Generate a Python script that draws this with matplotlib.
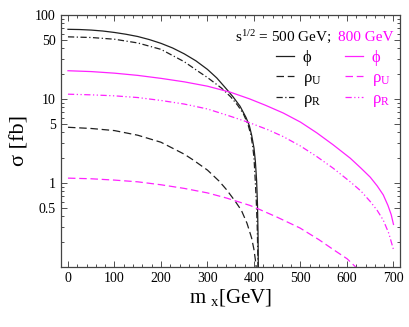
import numpy as np
import matplotlib
matplotlib.use('Agg')
import matplotlib.pyplot as plt
from matplotlib.ticker import FixedLocator, MultipleLocator, NullFormatter

plt.rcParams['font.family'] = ['Liberation Serif', 'DejaVu Serif']
plt.rcParams['mathtext.fontset'] = 'custom'
plt.rcParams['mathtext.rm'] = 'Liberation Serif'
plt.rcParams['mathtext.it'] = 'Liberation Serif:italic'

# sqrt(s) = 500 GeV
m_phi500 = [0, 25, 50, 75, 100, 125, 150, 175, 200, 225, 250, 275, 300, 320, 340, 355,
            370, 383, 390, 395, 400, 403, 405.7, 407.5, 408.7, 409.3, 409.6]
s_phi500 = [67.6, 67.2, 66.2, 64.5, 62, 59, 55.5, 51, 46, 40.5, 34.5, 28.5, 22.5, 17.8, 13.3, 10.6,
            8.2, 6.0, 4.8, 3.7, 2.6, 1.8, 1.05, 0.55, 0.25, 0.1, 0.03]
m_rhoR500 = [0, 50, 100, 150, 200, 250, 283, 300, 330, 350, 365, 377, 387, 393, 397, 400,
             402.6, 405, 407, 408.5, 409.2]
s_rhoR500 = [55, 54, 51.5, 46.5, 39, 27.8, 20.8, 18, 13.5, 10.6, 8.4, 6.7, 5.0, 3.8, 2.8, 2.0,
             1.1, 0.6, 0.3, 0.12, 0.04]
m_rhoU500 = [0, 50, 100, 150, 200, 250, 269, 300, 325, 341, 360, 373, 385, 395, 400, 404, 407]
s_rhoU500 = [4.6, 4.45, 4.2, 3.7, 3.05, 2.2, 1.88, 1.42, 1.05, 0.83, 0.6, 0.47, 0.33, 0.22, 0.16, 0.11, 0.07]

# sqrt(s) = 800 GeV
m_phi800 = [0, 50, 100, 150, 200, 250, 300, 350, 391, 425, 463, 500, 535, 570, 607, 630,
            650, 665, 678, 688, 695, 700]
s_phi800 = [21.7, 21.2, 20.3, 19.1, 17.6, 16.0, 14.2, 12.0, 10.0, 8.4, 6.8, 5.3, 3.95, 2.85, 1.97, 1.5,
            1.17, 0.92, 0.72, 0.54, 0.42, 0.32]
m_rhoR800 = [0, 50, 100, 150, 200, 250, 300, 350, 391, 430, 463, 500, 535, 570, 607, 630,
             650, 665, 678, 690, 700]
s_rhoR800 = [11.4, 11.2, 10.9, 10.4, 9.6, 8.7, 7.6, 6.2, 5.2, 4.3, 3.56, 2.75, 2.06, 1.5, 1.03, 0.8,
             0.6, 0.47, 0.36, 0.25, 0.16]
m_rhoU800 = [0, 50, 100, 150, 200, 250, 300, 341, 391, 413, 450, 499, 540, 571, 600, 620]
s_rhoU800 = [1.14, 1.12, 1.08, 1.03, 0.95, 0.86, 0.76, 0.66, 0.54, 0.48, 0.39, 0.29, 0.21, 0.16, 0.125, 0.098]

yticks = [0.5, 1, 5, 10, 50, 100]
ytick_labels = ['0.5', '1', '5', '10', '50', '100']

blk = '#202020'
mag = '#ff22ff'

fig = plt.figure(figsize=(4.09, 3.27), dpi=100)
ax = fig.add_axes([0.148, 0.184, 0.830, 0.770])

l1, = ax.plot(m_phi500, s_phi500, color=blk, lw=0.9, ls='-')
l2, = ax.plot(m_rhoU500, s_rhoU500, color=blk, lw=0.9, ls=(0, (6, 3)))
l3, = ax.plot(m_rhoR500, s_rhoR500, color=blk, lw=0.9, ls=(0, (5, 2, 1, 2)))
l4, = ax.plot(m_phi800, s_phi800, color=mag, lw=0.9, ls='-')
l5, = ax.plot(m_rhoU800, s_rhoU800, color=mag, lw=0.9, ls=(0, (6, 3)))
l6, = ax.plot(m_rhoR800, s_rhoR800, color=mag, lw=0.9, ls=(0, (5, 2, 1, 2, 1, 2)))

ax.set_yscale('log')
ax.set_xlim(-16, 714)
ax.set_ylim(0.1, 100)
ax.xaxis.set_major_locator(MultipleLocator(100))
ax.xaxis.set_minor_locator(MultipleLocator(20))
ax.yaxis.set_major_locator(FixedLocator(yticks))
ax.set_yticklabels(ytick_labels)
ax.yaxis.set_minor_locator(FixedLocator([v * 10.0 ** e for e in (-1, 0, 1) for v in range(2, 10)]))
ax.yaxis.set_minor_formatter(NullFormatter())
ax.tick_params(which='both', direction='in', top=True, right=True, labelsize=10, width=0.6, colors='#333333', labelcolor='black')
ax.tick_params(which='major', length=4)
ax.tick_params(which='minor', length=2)
for sp in ax.spines.values():
    sp.set_color('#444444')
    sp.set_linewidth(0.9)

ax.set_xlabel(r'm $_{\mathrm{x}}$[GeV]', fontsize=15, labelpad=2)
ax.set_ylabel('σ [fb]', fontsize=16, labelpad=4)

ax.text(0.514, 0.895, r's$^{\mathrm{1/2}}$ = 500 GeV;', transform=ax.transAxes, fontsize=11, color='black')
ax.text(0.818, 0.895, '800 GeV', transform=ax.transAxes, fontsize=11, color='#ff00ff')

labels = ['ϕ', r'ρ$_{\mathrm{U}}$', r'ρ$_{\mathrm{R}}$']
kw = dict(frameon=False, fontsize=12, handlelength=1.1, handletextpad=0.5, labelspacing=0.2, borderpad=0, borderaxespad=0)
leg1 = ax.legend([l1, l2, l3], labels, loc='upper left', bbox_to_anchor=(0.635, 0.86), labelcolor='black', **kw)
ax.add_artist(leg1)
ax.legend([l4, l5, l6], labels, loc='upper left', bbox_to_anchor=(0.838, 0.86), labelcolor='#ff00ff', **kw)

fig.savefig('out.png', dpi=100)
